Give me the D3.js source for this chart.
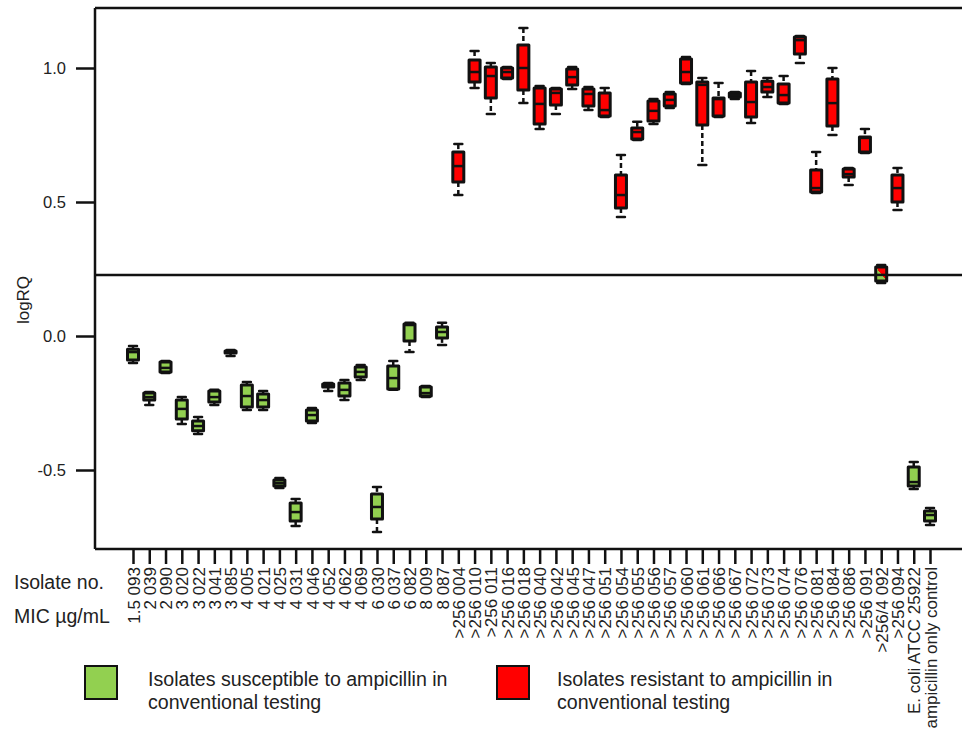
<!DOCTYPE html>
<html><head><meta charset="utf-8">
<script src="https://cdn.jsdelivr.net/npm/d3@7"></script>
<style>
html,body{margin:0;padding:0;background:#fff;}
svg{display:block;font-family:"Liberation Sans",Arial,sans-serif;}
</style></head>
<body>
<svg id="chart" width="962" height="734"></svg>
<script>
// ---- data ----
const isolates = ["093","039","090","020","022","041","085","005","021","025","031","046","052","062","069","030","037","082","009","087",
  "004","010","011","016","018","040","042","045","047","051","054","055","056","057","060","061","066","067","072","073","074","076","081","084","086","091","092","094"];
const mics = ["1.5","2","2","3","3","3","3","4","4","4","4","4","4","4","4","6","6","6","8","8",
  ">256",">256",">256",">256",">256",">256",">256",">256",">256",">256",">256",">256",">256",">256",">256",">256",">256",">256",">256",">256",">256",">256",">256",">256",">256",">256",">256/4",">256"];
const controlLabels = ["E. coli ATCC 25922","ampicillin only control"];
// group: S = susceptible (green), R = resistant (red), M = mixed
const groups = ["S","S","S","S","S","S","S","S","S","S","S","S","S","S","S","S","S","S","S","S",
  "R","R","R","R","R","R","R","R","R","R","R","R","R","R","R","R","R","R","R","R","R","R","R","R","R","R","M","R","S","S"];
const whiskerHigh = [-0.037,-0.209,-0.093,-0.228,-0.302,-0.201,-0.052,-0.172,-0.205,-0.530,-0.608,-0.269,-0.175,-0.164,-0.108,-0.563,-0.093,0.049,-0.187,0.049,
  0.716,1.063,1.019,1.004,1.149,0.933,0.925,1.004,0.929,0.925,0.675,0.799,0.884,0.910,1.041,0.963,0.944,0.910,0.989,0.963,0.970,1.119,0.687,1.000,0.627,0.772,0.265,0.627,-0.470,-0.642];
const q3 = [-0.049,-0.213,-0.097,-0.239,-0.317,-0.205,-0.056,-0.183,-0.216,-0.537,-0.623,-0.276,-0.179,-0.175,-0.116,-0.590,-0.112,0.045,-0.190,0.034,
  0.687,1.030,1.004,1.000,1.086,0.925,0.922,0.996,0.922,0.907,0.601,0.776,0.877,0.903,1.034,0.948,0.888,0.907,0.948,0.951,0.940,1.116,0.619,0.959,0.623,0.743,0.257,0.601,-0.489,-0.653];
const median = [-0.060,-0.228,-0.119,-0.272,-0.336,-0.228,-0.060,-0.224,-0.239,-0.549,-0.657,-0.295,-0.183,-0.201,-0.134,-0.638,-0.157,0.041,-0.213,0.015,
  0.634,0.985,0.970,0.985,1.000,0.866,0.907,0.966,0.903,0.843,0.526,0.761,0.840,0.881,0.985,0.937,0.884,0.899,0.873,0.929,0.899,1.104,0.552,0.869,0.604,0.739,0.228,0.552,-0.545,-0.668];
const q1 = [-0.090,-0.239,-0.134,-0.310,-0.354,-0.246,-0.063,-0.265,-0.265,-0.560,-0.690,-0.317,-0.190,-0.224,-0.153,-0.683,-0.198,-0.019,-0.224,-0.007,
  0.575,0.948,0.888,0.963,0.918,0.791,0.862,0.937,0.858,0.821,0.478,0.735,0.802,0.858,0.944,0.787,0.821,0.892,0.817,0.910,0.869,1.052,0.537,0.784,0.593,0.687,0.205,0.500,-0.560,-0.690];
const whiskerLow = [-0.101,-0.257,-0.138,-0.328,-0.366,-0.257,-0.075,-0.276,-0.276,-0.567,-0.709,-0.325,-0.205,-0.239,-0.164,-0.731,-0.201,-0.060,-0.228,-0.034,
  0.526,0.925,0.828,0.959,0.869,0.772,0.828,0.922,0.843,0.817,0.444,0.731,0.791,0.851,0.940,0.638,0.817,0.884,0.795,0.892,0.866,1.019,0.534,0.750,0.563,0.683,0.198,0.470,-0.571,-0.705];
const cutoff = 0.228;
const yTicks = [-0.5, 0, 0.5, 1.0];
const legendItems = [
  {key:"S", lines:["Isolates susceptible to ampicillin in","conventional testing"]},
  {key:"R", lines:["Isolates resistant to ampicillin in","conventional testing"]}
];
const colors = {S:"#92d050", R:"#ff0000"};

// ---- build ----
const labels = isolates.map((d,i)=> mics[i] + " " + d).concat(controlLabels);
const data = labels.map((l,i)=>({i, label:l, g:groups[i], hi:whiskerHigh[i], q3:q3[i], med:median[i], q1:q1[i], lo:whiskerLow[i]}));

const svg = d3.select("#chart");
const M = {left:95, top:8, bottom:549, right:962};
const y = d3.scaleLinear().domain([-0.5, 1.0]).range([470, 68]);
const x = d3.scalePoint().domain(data.map(d=>d.i)).range([133, 930]);

const defs = svg.append("defs");
const grad = defs.append("linearGradient").attr("id","mixFill").attr("x1","0").attr("y1","1").attr("x2","1").attr("y2","0");
grad.append("stop").attr("offset","0.5").attr("stop-color",colors.S);
grad.append("stop").attr("offset","0.5").attr("stop-color",colors.R);

const ink = "#111";
const txt = "#222";
// frame
svg.append("line").attr("x1",M.left).attr("x2",M.right).attr("y1",M.top).attr("y2",M.top).attr("stroke",ink).attr("stroke-width",2.5);
svg.append("line").attr("x1",M.left).attr("x2",M.right).attr("y1",M.bottom).attr("y2",M.bottom).attr("stroke",ink).attr("stroke-width",2.5);
svg.append("line").attr("x1",M.left).attr("x2",M.left).attr("y1",M.top).attr("y2",M.bottom).attr("stroke",ink).attr("stroke-width",2.5);
// cutoff
svg.append("line").attr("x1",M.left).attr("x2",M.right).attr("y1",y(cutoff)).attr("y2",y(cutoff)).attr("stroke",ink).attr("stroke-width",2.5);

// y axis
const yAxis = svg.append("g").attr("transform",`translate(${M.left},0)`)
  .call(d3.axisLeft(y).tickValues(yTicks).tickSize(19).tickPadding(10).tickFormat(d=>d.toFixed(1)));
yAxis.select(".domain").remove();
yAxis.selectAll(".tick line").attr("stroke",ink).attr("stroke-width",2.5);
yAxis.selectAll(".tick text").attr("font-size",16.5).attr("fill",txt).attr("font-family","Liberation Sans, Arial, sans-serif");
svg.append("text").attr("transform","translate(29,300) rotate(-90)").attr("text-anchor","middle")
  .attr("font-size",17).attr("fill",txt).text("logRQ");

// x axis
const xAxis = svg.append("g").attr("transform",`translate(0,${M.bottom})`)
  .call(d3.axisBottom(x).tickSize(15).tickFormat(i=>labels[i]));
xAxis.select(".domain").remove();
xAxis.selectAll(".tick line").attr("stroke",ink).attr("stroke-width",2.5);
xAxis.selectAll(".tick text").attr("font-size",17).attr("fill",txt)
  .attr("font-family","Liberation Sans, Arial, sans-serif")
  .attr("text-anchor","end").attr("transform","translate(0,18) rotate(-90)").attr("x",0).attr("y",0).attr("dy","0.36em");

svg.append("text").attr("x",14).attr("y",589).attr("font-size",19.5).attr("fill",txt).text("Isolate no.");
svg.append("text").attr("x",14).attr("y",623).attr("font-size",19.5).attr("fill",txt).text("MIC µg/mL");

// boxes
const bw = 11, cw = 8;
const gBox = svg.append("g");
const box = gBox.selectAll("g.box").data(data).join("g").attr("class","box");
box.append("line").attr("x1",d=>x(d.i)).attr("x2",d=>x(d.i)).attr("y1",d=>y(d.hi)).attr("y2",d=>y(d.q3))
  .attr("stroke",ink).attr("stroke-width",2.5).attr("stroke-dasharray","5,3");
box.append("line").attr("x1",d=>x(d.i)).attr("x2",d=>x(d.i)).attr("y1",d=>y(d.q1)).attr("y2",d=>y(d.lo))
  .attr("stroke",ink).attr("stroke-width",2.5).attr("stroke-dasharray","5,3");
box.append("line").attr("x1",d=>x(d.i)-cw/2).attr("x2",d=>x(d.i)+cw/2).attr("y1",d=>y(d.hi)).attr("y2",d=>y(d.hi))
  .attr("stroke",ink).attr("stroke-width",2.5).attr("stroke-linecap","round");
box.append("line").attr("x1",d=>x(d.i)-cw/2).attr("x2",d=>x(d.i)+cw/2).attr("y1",d=>y(d.lo)).attr("y2",d=>y(d.lo))
  .attr("stroke",ink).attr("stroke-width",2.5).attr("stroke-linecap","round");
box.append("rect").attr("x",d=>x(d.i)-bw/2).attr("width",bw)
  .attr("y",d=>y(d.q3)).attr("height",d=>Math.max(0.5,y(d.q1)-y(d.q3)))
  .attr("fill",d=>d.g==="M"?"url(#mixFill)":colors[d.g]).attr("stroke",ink).attr("stroke-width",3).attr("stroke-linejoin","round");
box.append("line").attr("x1",d=>x(d.i)-bw/2).attr("x2",d=>x(d.i)+bw/2).attr("y1",d=>y(d.med)).attr("y2",d=>y(d.med))
  .attr("stroke",ink).attr("stroke-width",2.5);

// legend
const lx = [84, 496];
const leg = svg.selectAll("g.leg").data(legendItems).join("g").attr("class","leg")
  .attr("transform",(d,i)=>`translate(${lx[i]},666)`);
leg.append("rect").attr("x",1).attr("y",0).attr("width",32).attr("height",33)
  .attr("fill",d=>colors[d.key]).attr("stroke",ink).attr("stroke-width",2);
leg.each(function(d){
  const tx = d.key==="S"?64:61;
  const t = d3.select(this).append("text").attr("x", tx).attr("y",20).attr("font-size",19.6).attr("fill",txt);
  d.lines.forEach((l,k)=> t.append("tspan").attr("x", tx).attr("dy", k===0?0:23).text(l));
});
</script>
</body></html>
